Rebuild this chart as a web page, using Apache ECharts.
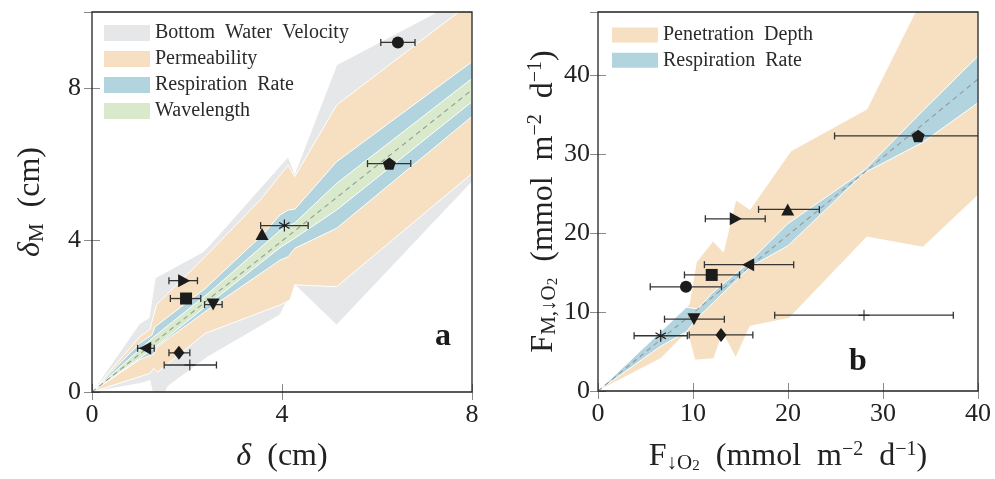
<!DOCTYPE html>
<html>
<head>
<meta charset="utf-8">
<script src="https://cdn.jsdelivr.net/npm/echarts@6/dist/echarts.min.js"></script>
<style>
  html, body { margin: 0; padding: 0; background: #fff; }
  #chart { width: 995px; height: 479px; }
</style>
</head>
<body>
<div id="chart"></div>
<script>
// ---------- panel a: penetration depth (cm) ----------
const markerNames = ['circle', 'pentagon', 'asterisk', 'triUp', 'triRight', 'square', 'triDown', 'triLeft', 'diamond', 'plus'];

const deltaObs   = [6.44, 6.26, 4.05, 3.58, 1.94, 1.98, 2.55, 1.12, 1.83, 2.06];
const deltaModel = [9.20, 6.01, 4.38, 4.16, 2.93, 2.46, 2.30, 1.15, 1.03, 0.71];
const deltaObsLo = [6.08, 5.80, 3.55, null, 1.62, 1.65, 2.37, 0.96, 1.62, 1.52];
const deltaObsHi = [6.80, 6.71, 4.55, null, 2.22, 2.29, 2.74, 1.31, 2.06, 2.62];

const velocityUpper = [[0,0],[1.0,1.8],[1.2,1.95],[1.33,3.0],[2.34,3.69],[2.48,3.87],[4.13,6.19],[4.27,5.75],[5.15,8.61],[7.26,10.0],[8,10.0]];
const velocityLower = [[0,0],[1.0,0.22],[1.22,0.3],[1.27,0],[1.55,0],[1.6,0.15],[2.41,0.9],[3.96,2.03],[4.27,2.82],[5.15,1.76],[8,5.53]];
const permUpper = [[0,0],[1.0,1.45],[1.22,1.65],[1.36,2.3],[2.41,3.6],[3.54,5.05],[4.13,5.97],[4.27,5.67],[5.15,7.55],[8,10.27]];
const permLower = [[0,0],[0.8,0.32],[1.22,0.49],[1.3,0.62],[1.38,0.52],[2.38,1.54],[3.96,2.29],[4.17,2.42],[4.27,2.82],[5.15,2.77],[8,5.75]];
const respUpperA = [[0,0],[1.0,1.28],[1.26,1.5],[1.33,1.72],[2.38,2.72],[3.6,4.15],[3.96,4.66],[4.13,4.79],[4.27,4.81],[5.15,6.06],[8,8.69]];
const respLowerA = [[0,0],[1.0,0.85],[1.3,1.0],[1.38,1.2],[2.5,2.22],[3.96,3.47],[4.13,3.56],[4.27,3.78],[5.15,4.31],[8,7.25]];
const waveUpper = [[0,0],[1.3,1.45],[2.5,2.65],[3.96,4.25],[4.27,4.45],[5.15,5.49],[8,8.25]];
const waveLower = [[0,0],[1.3,1.15],[2.5,2.36],[3.96,3.8],[4.27,4.05],[5.15,4.79],[8,7.64]];
const refLineA = [[0,0],[8,7.95]];

// ---------- panel b: oxygen flux (mmol m-2 d-1) ----------
const fluxObs   = [9.26, 33.7, 6.6, 19.97, 14.5, 11.97, 10.1, 15.8, 12.95, 28.0];
const fluxModel = [13.2, 32.3, 7.0, 23.0, 21.8, 14.7, 9.1, 16.0, 7.1, 9.6];
const fluxObsLo = [5.5, 24.9, 3.8, 16.9, 11.3, 9.1, 7.0, 11.2, 9.6, 18.6];
const fluxObsHi = [13.0, 43.0, 9.4, 23.3, 17.6, 14.9, 13.3, 20.6, 16.3, 37.4];

const depthUpper = [[0,0],[6.7,6.9],[9.3,10.6],[9.6,11.0],[10.35,16.3],[12.1,19.0],[13.2,17.6],[14.5,24.2],[16.0,23.0],[20.3,30.4],[28.3,35.7],[33.6,48.5],[40,48.5]];
const depthLower = [[0,0],[6.6,4.1],[9.4,7.5],[10.2,3.9],[12.2,4.1],[13.1,7.4],[14.5,4.2],[16.0,8.2],[20.1,9.2],[28.3,19.5],[34.2,18.2],[40,24.8]];
const respUpperB = [[0,0],[6.5,7.4],[9.3,10.6],[10.5,10.4],[12.1,12.5],[15.8,16.2],[20.0,21.2],[28.0,27.9],[34.2,35.5],[40,42.4]];
const respLowerB = [[0,0],[6.5,5.6],[9.3,7.5],[10.5,9.3],[16.0,15.7],[20.0,18.4],[28.0,27.6],[34.2,31.5],[40,36.5]];
const refLineB = [[0,0],[40,39.5]];

const FONT = '"Liberation Serif", "DejaVu Serif", serif';
const C = { gray: '#e6e7e9', peach: '#f6e0c1', blue: '#b1d4de', green: '#d8eacb', ink: '#1c1c1c' };

// thin crossing bars (asterisk / plus markers) as one filled path
function barsPath(angles, len, half) {
  let d = '';
  angles.forEach(a => {
    const r = a * Math.PI / 180, c = Math.cos(r), s = Math.sin(r);
    const pts = [[c*len - s*half, s*len + c*half], [c*len + s*half, s*len - c*half],
                 [-c*len + s*half, -s*len - c*half], [-c*len - s*half, -s*len + c*half]];
    d += 'M' + pts.map(p => p[0].toFixed(3) + ',' + p[1].toFixed(3)).join('L') + 'Z';
  });
  return 'path://' + d;
}

const SHAPES = {
  circle:   { symbol: 'circle', size: 12 },
  pentagon: { symbol: 'path://M0,-1L0.951,-0.309L0.588,0.809L-0.588,0.809L-0.951,-0.309Z', size: [13, 12.4] },
  asterisk: { symbol: barsPath([90, 30, 150], 1, 0.1), size: [11, 12] },
  triUp:    { symbol: 'triangle', size: [13, 12] },
  triRight: { symbol: 'path://M0,0L1.75,1L0,2Z', size: [12, 13] },
  square:   { symbol: 'rect', size: 12 },
  triDown:  { symbol: 'path://M0,0L2,0L1,1.75Z', size: [13, 12] },
  triLeft:  { symbol: 'path://M1.75,0L0,1L1.75,2Z', size: [12, 13] },
  diamond:  { symbol: 'diamond', size: [11, 14] },
  plus:     { symbol: barsPath([0, 90], 1, 0.09), size: [11, 11] }
};

function band(name, xi, yi, upper, lower, color) {
  const pts = upper.concat(lower.slice().reverse());
  return {
    type: 'custom', name, xAxisIndex: xi, yAxisIndex: yi, clip: true,
    itemStyle: { color },
    encode: { x: 0, y: 1 },
    data: [pts[0]],
    silent: true,
    renderItem: (params, api) => ({
      type: 'polygon',
      shape: { points: pts.map(p => api.coord(p)) },
      style: { fill: color, stroke: '#ffffff', lineWidth: 1 }
    })
  };
}

function refLine(xi, yi, pts) {
  return {
    type: 'line', xAxisIndex: xi, yAxisIndex: yi, data: pts, symbol: 'none', silent: true,
    lineStyle: { color: '#999999', width: 1.1, type: [5, 4] }, z: 3
  };
}

function errorBars(xi, yi, xs, ys, lo, hi) {
  const rows = [];
  xs.forEach((x, i) => { if (lo[i] != null) rows.push([lo[i], hi[i], ys[i]]); });
  return {
    type: 'custom', xAxisIndex: xi, yAxisIndex: yi, clip: true, silent: true, z: 4,
    encode: { x: [0, 1], y: 2 },
    data: rows,
    renderItem: (params, api) => {
      const a = api.coord([api.value(0), api.value(2)]);
      const b = api.coord([api.value(1), api.value(2)]);
      const st = { stroke: '#333', lineWidth: 1.3 };
      return { type: 'group', children: [
        { type: 'line', shape: { x1: a[0], y1: a[1], x2: b[0], y2: b[1] }, style: st },
        { type: 'line', shape: { x1: a[0], y1: a[1] - 3.5, x2: a[0], y2: a[1] + 3.5 }, style: st },
        { type: 'line', shape: { x1: b[0], y1: b[1] - 3.5, x2: b[0], y2: b[1] + 3.5 }, style: st }
      ]};
    }
  };
}

function markers(xi, yi, xs, ys) {
  return {
    type: 'scatter', xAxisIndex: xi, yAxisIndex: yi, silent: true, z: 5,
    itemStyle: { color: C.ink, opacity: 1 },
    data: xs.map((x, i) => ({
      value: [x, ys[i]],
      symbol: SHAPES[markerNames[i]].symbol,
      symbolSize: SHAPES[markerNames[i]].size
    }))
  };
}

const tick = { show: true, inside: true, length: 8, lineStyle: { color: '#8a8a8a', width: 1 } };
const labelStyle = { fontFamily: FONT, fontSize: 26, color: '#222' };
const rich = {
  i:    { fontFamily: FONT, fontSize: 32, fontStyle: 'italic', color: '#222', lineHeight: 34 },
  sub:  { fontFamily: FONT, fontSize: 21, color: '#222', verticalAlign: 'bottom', lineHeight: 22 },
  sub2: { fontFamily: FONT, fontSize: 15, color: '#222', verticalAlign: 'bottom', lineHeight: 12 },
  sup:  { fontFamily: FONT, fontSize: 20, color: '#222', verticalAlign: 'top', lineHeight: 20 }
};
const nameStyle = { fontFamily: FONT, fontSize: 32, color: '#222', lineHeight: 34, rich };

function xPair(grid, max, interval, name, gap) {
  return [
    { gridIndex: grid, type: 'value', min: 0, max, interval, position: 'bottom',
      axisLine: { show: false }, axisTick: tick, splitLine: { show: false },
      axisLabel: Object.assign({ margin: 10 }, labelStyle),
      name, nameLocation: 'middle', nameGap: gap, nameTextStyle: nameStyle },
    { gridIndex: grid, type: 'value', min: 0, max, interval, position: 'top',
      axisLine: { show: false }, axisTick: tick, splitLine: { show: false }, axisLabel: { show: false } }
  ];
}
function yPair(grid, max, interval, name, gap, margin) {
  return [
    { gridIndex: grid, type: 'value', min: 0, max, interval, position: 'left',
      axisLine: { show: false }, axisTick: tick, splitLine: { show: false },
      axisLabel: Object.assign({ margin, showMaxLabel: false }, labelStyle),
      name, nameLocation: 'middle', nameRotate: 90, nameGap: gap, nameTextStyle: nameStyle },
    { gridIndex: grid, type: 'value', min: 0, max, interval, position: 'right',
      axisLine: { show: false }, axisTick: tick, splitLine: { show: false }, axisLabel: { show: false } }
  ];
}

const gridBase = { show: true, z: 10, backgroundColor: 'transparent', borderColor: '#222', borderWidth: 1.3, width: 380, height: 380, top: 12 };

const legendBase = {
  orient: 'vertical', icon: 'rect', itemWidth: 46, padding: 0,
  selectedMode: false,
  formatter: name => name.replace(/ /g, '  ')
};
const legendText = { fontFamily: FONT, fontSize: 20, color: '#2a2a2a', lineHeight: 16 };

const option = {
  animation: false,
  backgroundColor: '#ffffff',
  grid: [
    Object.assign({ left: 92 }, gridBase),
    Object.assign({ left: 598 }, gridBase)
  ],
  xAxis: [].concat(
    xPair(0, 8, 4, '{i|δ}  (cm)', 48),
    xPair(1, 40, 10, 'F{sub|↓O}{sub2|2}  (mmol  m{sup|−2}  d{sup|−1})', 49)
  ),
  yAxis: [].concat(
    yPair(0, 10, 4, '{i|δ}{sub|M}  (cm)', 44, 11),
    yPair(1, 48, 10, 'F{sub|M,↓O}{sub2|2}  (mmol  m{sup|−2}  d{sup|−1})', 36, 8)
  ),
  legend: [
    Object.assign({ left: 104, top: 23, itemHeight: 16, itemGap: 6, textStyle: legendText, data: [
      { name: 'Bottom Water Velocity', itemStyle: { color: C.gray } },
      { name: 'Permeability', itemStyle: { color: C.peach } },
      { name: 'Respiration Rate', itemStyle: { color: C.blue } },
      { name: 'Wavelength', itemStyle: { color: C.green } }
    ] }, legendBase),
    Object.assign({ left: 612, top: 25, itemHeight: 15, itemGap: 5.3, textStyle: Object.assign({}, legendText, { lineHeight: 15 }), data: [
      { name: 'Penetration Depth', itemStyle: { color: C.peach } },
      { name: 'Respiration Rate', itemStyle: { color: C.blue } }
    ] }, legendBase)
  ],
  title: [
    { text: 'a', left: 435, top: 321, padding: 0, textStyle: { fontFamily: FONT, fontSize: 32, fontWeight: 'bold', color: '#1a1a1a' } },
    { text: 'b', left: 849, top: 346, padding: 0, textStyle: { fontFamily: FONT, fontSize: 32, fontWeight: 'bold', color: '#1a1a1a' } }
  ],
  series: [
    band('Bottom Water Velocity', 0, 0, velocityUpper, velocityLower, C.gray),
    band('Permeability', 0, 0, permUpper, permLower, C.peach),
    band('Respiration Rate', 0, 0, respUpperA, respLowerA, C.blue),
    band('Wavelength', 0, 0, waveUpper, waveLower, C.green),
    refLine(0, 0, refLineA),
    errorBars(0, 0, deltaObs, deltaModel, deltaObsLo, deltaObsHi),
    markers(0, 0, deltaObs, deltaModel),

    band('Penetration Depth', 2, 2, depthUpper, depthLower, C.peach),
    band('Respiration Rate', 2, 2, respUpperB, respLowerB, C.blue),
    refLine(2, 2, refLineB),
    errorBars(2, 2, fluxObs, fluxModel, fluxObsLo, fluxObsHi),
    markers(2, 2, fluxObs, fluxModel)
  ]
};

const chart = echarts.init(document.getElementById('chart'), null, { renderer: 'canvas' });
chart.setOption(option);
</script>
</body>
</html>
